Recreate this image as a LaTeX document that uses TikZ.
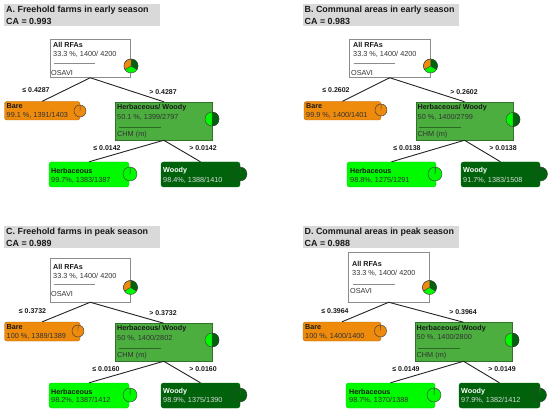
\documentclass[tikz,border=0pt]{standalone}
\usepackage{fontspec}
\setmainfont{Liberation Sans}
\usetikzlibrary{fit}
\definecolor{cOrange}{HTML}{EE8A0C}
\definecolor{cMid}{HTML}{4BAE3F}
\definecolor{cBright}{HTML}{00FA00}
\definecolor{cDark}{HTML}{00620A}
\definecolor{cTitle}{HTML}{D9D9D9}
\definecolor{cEdge}{HTML}{222222}
\tikzset{
  x=1pt,y=-1pt,
  box/.style={inner sep=0pt,fit={#1}},
  rootbox/.style={draw=black!45,line width=0.5pt,fill=white},
  midbox/.style={draw=black!35!cMid,line width=0.5pt,fill=cMid},
  barebox/.style={draw=black!25!cOrange,line width=0.4pt,fill=cOrange,rounded corners=2.5pt},
  herbbox/.style={draw=black!15!cBright,line width=0.4pt,fill=cBright,rounded corners=2.5pt},
  woodybox/.style={draw=cDark,line width=0.4pt,fill=cDark,rounded corners=2.5pt},
  titlebox/.style={fill=cTitle},
  titletext/.style={anchor=west,inner sep=0pt,font=\fontsize{8.9}{10}\selectfont\bfseries,text=black!90},
  head/.style={anchor=west,inner sep=0pt,font=\fontsize{7.2}{8}\selectfont\bfseries,text=black!90},
  body/.style={anchor=west,inner sep=0pt,font=\fontsize{7.3}{8}\selectfont,text=black!80},
  headw/.style={head,text=white},
  bodyw/.style={body,text=white!85!black},
  edgelabel/.style={inner sep=0pt,font=\fontsize{7}{8}\selectfont\bfseries,text=black!90},
  edge/.style={draw=cEdge,line width=0.9pt},
  rule/.style={draw=black!45,line width=0.5pt},
  rulem/.style={draw=black!40!cMid,line width=0.5pt},
  piecirc/.style={circle,inner sep=0pt,draw=black!75,line width=0.45pt,fill=#1},
  slice/.style={draw=black!75,line width=0.45pt,fill=#1},
}
\newcommand{\bx}[6]{\node[#1,box={(#3,#4)(#5,#6)}] (#2) {};}
\newcommand{\tx}[5]{\node[#1] (#2) at (#3,#4) {#5};}
% name, x, y, radius(pt), main colour, wedge colour, wedge degrees
\newcommand{\onepie}[7]{%
  \node[piecirc=#5,minimum size=#4pt*2] (#1) at (#2,#3) {};
  \path[slice=#6] (#1.center) -- +(90:#4pt) arc[start angle=90,delta angle=-#7,radius=#4pt] -- cycle;}
\newcommand{\halfpie}[4]{%
  \node[piecirc=cBright,minimum size=#4pt*2] (#1) at (#2,#3) {};
  \path[slice=cDark] (#1.center) -- +(90:#4pt) arc[start angle=90,delta angle=-180,radius=#4pt] -- cycle;}
\newcommand{\triplepie}[4]{%
  \node[piecirc=cBright,minimum size=#4pt*2] (#1) at (#2,#3) {};
  \path[slice=cDark] (#1.center) -- +(90:#4pt) arc[start angle=90,delta angle=-120,radius=#4pt] -- cycle;
  \path[slice=cOrange] (#1.center) -- +(210:#4pt) arc[start angle=210,delta angle=-120,radius=#4pt] -- cycle;}
\newcommand{\links}[5]{%
  \draw[edge] (#1.south) -- (#2.north);
  \draw[edge] (#1.south) -- (#3.north);
  \draw[edge] (#3.south) -- (#4.north);
  \draw[edge] (#3.south) -- (#5.north);}
\begin{document}
\begin{tikzpicture}
\useasboundingbox (0,0) rectangle (550,412);
% ---------- A
\bx{titlebox}{At}{4}{4.5}{160}{26.5}
\tx{titletext}{At1}{6}{10.5}{A. Freehold farms in early season}
\tx{titletext}{At2}{6}{21}{CA = 0.993}
\bx{rootbox}{Ar}{50}{39.5}{130.5}{77.5}
\bx{barebox}{Ab}{4.5}{101.5}{80}{120}
\bx{midbox}{Am}{115.5}{102}{212}{140}
\bx{herbbox}{Ah}{49}{162}{129}{187}
\bx{woodybox}{Aw}{161}{162}{240}{187}
\links{Ar}{Ab}{Am}{Ah}{Aw}
\tx{head}{Ar1}{53}{45}{All RFAs}
\tx{body}{Ar2}{53}{54}{33.3 \%, 1400/ 4200}
\draw[rule] (54,63) -- (95,63);
\tx{body}{Ar3}{51}{72.5}{OSAVI}
\triplepie{Arp}{131}{66}{7}
\tx{edgelabel}{Al1}{36}{90.5}{≤ 0.4287}
\tx{edgelabel}{Al2}{163}{92}{> 0.4287}
\tx{head}{Ab1}{6.5}{106.5}{Bare}
\tx{body}{Ab2}{6.5}{115.5}{99.1 \%, 1391/1403}
\onepie{Abp}{80}{111}{6}{cOrange}{cOrange}{1}
\tx{head}{Am1}{117}{108}{Herbaceous/ Woody}
\tx{body}{Am2}{117}{117}{50.1 \%, 1399/2797}
\draw[rulem] (119,127) -- (161,127);
\tx{body}{Am3}{117}{135}{CHM (m)}
\halfpie{Amp}{212}{119}{7}
\tx{edgelabel}{Al3}{107}{148.5}{≤ 0.0142}
\tx{edgelabel}{Al4}{203}{148.5}{> 0.0142}
\tx{head}{Ah1}{51}{171}{Herbaceous}
\tx{body}{Ah2}{51}{180}{99.7\%, 1383/1387}
\onepie{Ahp}{130}{174}{7}{cBright}{cDark}{2}
\tx{headw}{Aw1}{163}{171}{Woody}
\tx{bodyw}{Aw2}{163}{180}{98.4\%, 1388/1410}
\onepie{Awp}{240}{174}{7}{cDark}{cBright}{1}
% ---------- B
\bx{titlebox}{Bt}{303}{4.5}{459}{26.5}
\tx{titletext}{Bt1}{304.5}{10.5}{B. Communal areas in early season}
\tx{titletext}{Bt2}{304.5}{21}{CA = 0.983}
\bx{rootbox}{Br}{349}{39.5}{430.5}{77.5}
\bx{barebox}{Bb}{304}{101.5}{381}{120}
\bx{midbox}{Bm}{416}{102}{513}{140}
\bx{herbbox}{Bh}{347}{162}{436}{187}
\bx{woodybox}{Bw}{461}{162}{540}{187}
\links{Br}{Bb}{Bm}{Bh}{Bw}
\tx{head}{Br1}{353}{45}{All RFAs}
\tx{body}{Br2}{353}{54}{33.3 \%, 1400/ 4200}
\draw[rule] (353.5,63) -- (395,63);
\tx{body}{Br3}{351}{72.5}{OSAVI}
\triplepie{Brp}{430.5}{66}{7}
\tx{edgelabel}{Bl1}{336}{90}{≤ 0.2602}
\tx{edgelabel}{Bl2}{464}{92}{> 0.2602}
\tx{head}{Bb1}{306}{106.5}{Bare}
\tx{body}{Bb2}{306}{115.5}{99.9 \%, 1400/1401}
\onepie{Bbp}{381}{110}{6}{cOrange}{cOrange}{1}
\tx{head}{Bm1}{417.5}{108}{Herbaceous/ Woody}
\tx{body}{Bm2}{417.5}{117}{50 \%, 1400/2799}
\draw[rulem] (419,127) -- (461,127);
\tx{body}{Bm3}{417.5}{135}{CHM (m)}
\halfpie{Bmp}{513}{119.5}{7}
\tx{edgelabel}{Bl3}{407}{148.5}{≤ 0.0138}
\tx{edgelabel}{Bl4}{503}{148.5}{> 0.0138}
\tx{head}{Bh1}{350}{171}{Herbaceous}
\tx{body}{Bh2}{350}{180}{98.8\%, 1275/1291}
\onepie{Bhp}{435}{174}{7}{cBright}{cDark}{4}
\tx{headw}{Bw1}{463}{171}{Woody}
\tx{bodyw}{Bw2}{463}{180}{91.7\%, 1383/1508}
\onepie{Bwp}{540.5}{174}{7}{cDark}{cDark}{8}
% ---------- C
\bx{titlebox}{Ct}{4}{226}{160}{248}
\tx{titletext}{Ct1}{6}{232}{C. Freehold farms in peak season}
\tx{titletext}{Ct2}{6}{243}{CA = 0.989}
\bx{rootbox}{Cr}{50}{258}{130.5}{302}
\bx{barebox}{Cb}{4.5}{322}{80}{341}
\bx{midbox}{Cm}{115.5}{323.5}{212}{361}
\bx{herbbox}{Ch}{49}{383}{129}{408}
\bx{woodybox}{Cw}{161}{383}{240}{408}
\links{Cr}{Cb}{Cm}{Ch}{Cw}
\tx{head}{Cr1}{53}{267}{All RFAs}
\tx{body}{Cr2}{53}{276}{33.3 \%, 1400/ 4200}
\draw[rule] (54,284) -- (95,284);
\tx{body}{Cr3}{51}{294}{OSAVI}
\triplepie{Crp}{130.5}{287.5}{7}
\tx{edgelabel}{Cl1}{32.5}{311}{≤ 0.3732}
\tx{edgelabel}{Cl2}{163}{313}{> 0.3732}
\tx{head}{Cb1}{6.5}{327}{Bare}
\tx{body}{Cb2}{6.5}{336}{100 \%, 1389/1389}
\onepie{Cbp}{78}{331}{6}{cOrange}{cOrange}{0.5}
\tx{head}{Cm1}{117}{329}{Herbaceous/ Woody}
\tx{body}{Cm2}{117}{338}{50 \%, 1400/2802}
\draw[rulem] (119,348) -- (161,348);
\tx{body}{Cm3}{117}{356}{CHM (m)}
\halfpie{Cmp}{212}{340}{7}
\tx{edgelabel}{Cl3}{106}{369}{≤ 0.0160}
\tx{edgelabel}{Cl4}{203}{369}{> 0.0160}
\tx{head}{Ch1}{51}{391.5}{Herbaceous}
\tx{body}{Ch2}{51}{400.5}{98.2\%, 1387/1412}
\onepie{Chp}{130}{395}{7}{cBright}{cDark}{2}
\tx{headw}{Cw1}{163}{391.5}{Woody}
\tx{bodyw}{Cw2}{163}{400.5}{98.9\%, 1375/1390}
\onepie{Cwp}{240}{395}{7}{cDark}{cBright}{2}
% ---------- D
\bx{titlebox}{Dt}{303}{226}{459}{248}
\tx{titletext}{Dt1}{304.5}{232}{D. Communal areas in peak season}
\tx{titletext}{Dt2}{304.5}{243}{CA = 0.988}
\bx{rootbox}{Dr}{348}{252.5}{429.5}{302}
\bx{barebox}{Db}{303}{322}{381}{341}
\bx{midbox}{Dm}{415}{322.5}{512}{361}
\bx{herbbox}{Dh}{346}{383}{435}{408}
\bx{woodybox}{Dw}{459}{383}{540}{408}
\links{Dr}{Db}{Dm}{Dh}{Dw}
\tx{head}{Dr1}{352}{264}{All RFAs}
\tx{body}{Dr2}{352}{273}{33.3 \%, 1400/ 4200}
\draw[rule] (353,284) -- (395,284);
\tx{body}{Dr3}{350}{291}{OSAVI}
\triplepie{Drp}{429.5}{287.5}{7}
\tx{edgelabel}{Dl1}{335}{311}{≤ 0.3964}
\tx{edgelabel}{Dl2}{463}{312.5}{> 0.3964}
\tx{head}{Db1}{305}{327}{Bare}
\tx{body}{Db2}{305}{336}{100 \%, 1400/1400}
\onepie{Dbp}{380.5}{331}{6}{cOrange}{cOrange}{0.5}
\tx{head}{Dm1}{416.5}{328.5}{Herbaceous/ Woody}
\tx{body}{Dm2}{416.5}{337.5}{50 \%, 1400/2800}
\draw[rulem] (418,348) -- (460,348);
\tx{body}{Dm3}{416.5}{355.5}{CHM (m)}
\halfpie{Dmp}{512}{340}{7}
\tx{edgelabel}{Dl3}{406}{369}{≤ 0.0149}
\tx{edgelabel}{Dl4}{502}{369}{> 0.0149}
\tx{head}{Dh1}{349}{391.5}{Herbaceous}
\tx{body}{Dh2}{349}{400.5}{98.7\%, 1370/1388}
\onepie{Dhp}{434}{395}{7}{cBright}{cDark}{3}
\tx{headw}{Dw1}{461}{391.5}{Woody}
\tx{bodyw}{Dw2}{461}{400.5}{97.9\%, 1382/1412}
\onepie{Dwp}{539.5}{395}{7}{cDark}{cBright}{8}
\end{tikzpicture}
\end{document}
